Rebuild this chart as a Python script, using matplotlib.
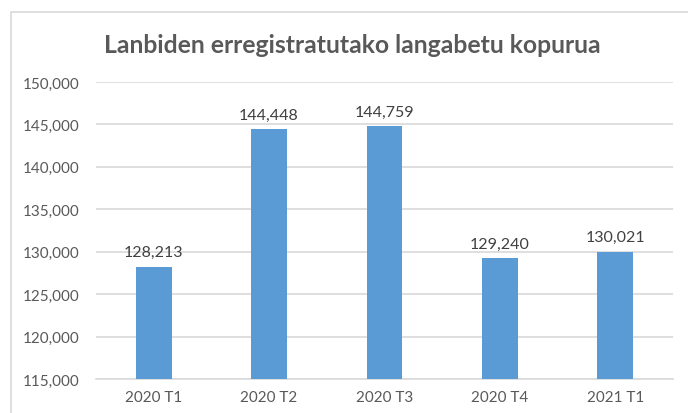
import matplotlib.pyplot as plt
from matplotlib.patches import Rectangle
from matplotlib.ticker import FuncFormatter

# Data
quarters = ['2020 T1', '2020 T2', '2020 T3', '2020 T4', '2021 T1']
unemployed = [128213, 144448, 144759, 129240, 130021]
y_ticks = [115000, 120000, 125000, 130000, 135000, 140000, 145000, 150000]

plt.rcParams['font.family'] = ['Lato', 'DejaVu Sans']

fig = plt.figure(figsize=(6.88, 4.14), dpi=100)
ax = fig.add_axes([0.1395, 0.0821, 0.8385, 0.7174])

# chart border (only top/left visible in the original)
fig.patches.append(Rectangle((11 / 688, -0.1), 1.2, (414 - 13) / 414 + 0.1,
                             transform=fig.transFigure, fill=False,
                             edgecolor='#D9D9D9', linewidth=1.2))

x = range(len(quarters))
ax.bar(x, unemployed, width=0.31, color='#5B9BD5', zorder=3)

for xi, v in zip(x, unemployed):
    ax.text(xi, v + 900, f'{v:,}', ha='center', va='bottom',
            fontsize=11.5, color='#404040')

ax.set_ylim(115000, 150000)
ax.set_xlim(-0.5, len(quarters) - 0.5)
ax.set_yticks(y_ticks)
ax.yaxis.set_major_formatter(FuncFormatter(lambda v, p: f'{int(v):,}'))
ax.set_xticks(list(x))
ax.set_xticklabels(quarters)
ax.grid(axis='y', color='#D9D9D9', linewidth=1.2, zorder=0)
for s in ['top', 'right', 'left']:
    ax.spines[s].set_visible(False)
ax.spines['bottom'].set_color('#D9D9D9')
ax.spines['bottom'].set_linewidth(1.2)
ax.tick_params(axis='both', length=0, labelsize=11, colors='#595959')
ax.tick_params(axis='y', pad=12)
ax.tick_params(axis='x', pad=8)

fig.text(0.5118, 0.891, 'Lanbiden erregistratutako langabetu kopurua',
         ha='center', va='center', fontsize=17.8, fontweight='bold',
         color='#595959')

fig.savefig('out.png', dpi=100)
